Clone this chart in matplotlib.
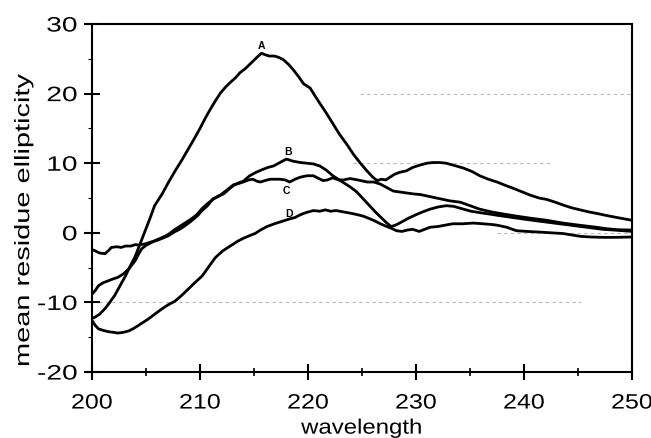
import numpy as np
import matplotlib
matplotlib.use('Agg')
import matplotlib.pyplot as plt
from matplotlib.ticker import MultipleLocator
from matplotlib.patheffects import AbstractPathEffect
from matplotlib.transforms import Affine2D

plt.rcParams['font.family'] = ['Liberation Sans', 'DejaVu Sans']
plt.rcParams['axes.unicode_minus'] = False


class Stretch(AbstractPathEffect):
    """Widen text glyphs along the baseline (the old chart font is set wide)."""
    def __init__(self, sx, anchor='center'):
        super().__init__()
        self.sx = sx
        self.anchor = anchor

    def draw_path(self, renderer, gc, tpath, affine, rgbFace=None):
        ext = tpath.get_extents()
        if self.anchor == 'right':
            cx = ext.x1
        elif self.anchor == 'left':
            cx = ext.x0
        else:
            cx = 0.5 * (ext.x0 + ext.x1)
        t = Affine2D().translate(-cx, 0).scale(self.sx, 1).translate(cx, 0)
        renderer.draw_path(gc, tpath, t + affine, rgbFace)


# CD spectra, mean residue ellipticity vs wavelength (nm)
wl_a = [200.0, 200.3, 200.7, 201.2, 201.6, 202.1, 202.6, 203.1, 203.5, 204.0, 204.4, 204.9,
        205.4, 205.8, 206.5, 207.1, 207.7, 208.3, 208.9, 209.5, 210.0, 210.5, 210.9, 211.4,
        211.9, 212.4, 212.8, 213.3, 213.7, 214.2, 214.6, 215.0, 215.4, 215.7, 216.0, 216.4,
        216.9, 217.3, 217.7, 218.2, 218.6, 219.1, 219.6, 220.2, 220.6, 221.1, 221.7, 222.3,
        222.9, 223.6, 224.2, 224.8, 225.4, 226.0, 226.4, 226.8, 227.2, 227.6, 228.0, 228.5,
        229.1, 229.7, 230.3, 231.0, 231.6, 232.2, 232.8, 233.5, 234.4, 235.2, 235.9, 236.7,
        237.5, 238.3, 239.0, 239.8, 240.6, 241.4, 242.1, 242.9, 243.6, 244.4, 245.2, 246.0,
        246.7, 247.6, 248.6, 249.3, 250.0]
val_a = [-12.3, -12.1, -11.7, -10.9, -10.1, -9.0, -7.6, -6.2, -4.9, -3.4, -1.8, 0.2,
         2.2, 3.9, 5.6, 7.3, 8.9, 10.4, 12.0, 13.6, 15.0, 16.5, 17.6, 18.9,
         20.1, 21.0, 21.6, 22.3, 23.0, 23.6, 24.2, 24.8, 25.4, 25.8, 25.6, 25.4,
         25.4, 25.2, 24.9, 24.2, 23.5, 22.5, 21.4, 20.8, 19.8, 18.6, 17.2, 15.7,
         14.2, 12.7, 11.3, 10.1, 9.0, 8.0, 7.5, 7.7, 7.6, 8.0, 8.4, 8.7,
         8.9, 9.4, 9.7, 10.0, 10.1, 10.1, 10.0, 9.7, 9.3, 8.8, 8.2, 7.7,
         7.3, 6.8, 6.4, 5.9, 5.4, 5.0, 4.8, 4.4, 4.0, 3.6, 3.3, 3.0,
         2.8, 2.5, 2.2, 2.0, 1.8]

wl_b = [200.0, 200.3, 200.6, 201.0, 201.5, 202.0, 202.4, 202.9, 203.4, 203.7, 204.0, 204.3,
        204.6, 205.0, 205.5, 206.0, 206.6, 207.1, 207.6, 208.1, 208.6, 209.2, 209.7, 210.2,
        210.7, 211.2, 211.7, 212.2, 212.7, 213.1, 213.6, 214.0, 214.6, 215.2, 215.8, 216.3,
        216.8, 217.4, 218.0, 218.6, 219.3, 219.9, 220.5, 221.1, 221.7, 222.3, 222.8, 223.2,
        223.9, 224.5, 225.1, 225.7, 226.3, 226.9, 227.3, 227.7, 228.1, 228.6, 229.3, 230.0,
        230.6, 231.3, 232.0, 232.8, 233.5, 234.4, 235.1, 235.9, 236.8, 237.6, 238.5, 239.4,
        240.3, 241.3, 242.3, 243.3, 244.3, 245.3, 246.3, 247.3, 248.3, 249.2, 250.0]
val_b = [-8.8, -8.3, -7.6, -7.2, -6.9, -6.6, -6.4, -5.9, -5.2, -4.6, -4.0, -3.1,
         -2.3, -1.8, -1.4, -1.0, -0.6, -0.2, 0.4, 0.9, 1.4, 2.0, 2.6, 3.5,
         4.2, 4.8, 5.3, 5.6, 6.3, 6.8, 7.2, 7.4, 8.2, 8.7, 9.1, 9.4,
         9.6, 10.1, 10.6, 10.3, 10.1, 10.0, 9.9, 9.6, 9.0, 8.2, 7.7, 7.3,
         6.6, 5.9, 4.9, 3.9, 2.9, 2.0, 1.4, 0.9, 1.1, 1.5, 2.1, 2.6,
         3.0, 3.4, 3.7, 3.9, 3.8, 3.4, 3.1, 2.9, 2.7, 2.5, 2.3, 2.1,
         1.9, 1.7, 1.5, 1.3, 1.1, 0.9, 0.7, 0.5, 0.4, 0.3, 0.2]

wl_c = [200.0, 200.3, 200.7, 201.2, 201.5, 201.8, 202.3, 202.7, 203.1, 203.6, 204.0, 204.3,
        204.9, 205.5, 206.0, 206.5, 207.1, 207.6, 208.1, 208.6, 209.2, 209.8, 210.2, 210.7,
        211.2, 211.7, 212.2, 212.7, 213.1, 213.6, 214.0, 214.5, 214.9, 215.3, 215.6, 216.0,
        216.5, 217.0, 217.4, 217.9, 218.3, 218.8, 219.3, 219.9, 220.5, 221.0, 221.4, 221.8,
        222.3, 222.8, 223.3, 223.9, 224.6, 225.5, 226.1, 226.7, 227.3, 227.9, 228.8, 229.7,
        230.4, 231.0, 231.6, 232.2, 233.1, 234.1, 235.0, 235.9, 237.0, 238.1, 239.3, 240.6,
        242.1, 243.6, 245.1, 246.7, 247.6, 248.6, 250.0]
val_c = [-2.4, -2.6, -2.9, -3.0, -2.6, -2.1, -2.0, -2.1, -1.9, -1.9, -1.7, -1.75,
         -1.6, -1.3, -1.1, -0.8, -0.4, 0.1, 0.5, 1.0, 1.7, 2.5, 3.2, 3.9,
         4.9, 5.2, 5.8, 6.4, 6.9, 7.1, 7.3, 7.6, 7.7, 7.4, 7.3, 7.5,
         7.7, 7.7, 7.7, 7.6, 7.3, 7.7, 8.0, 8.2, 8.2, 7.8, 7.5, 7.6,
         7.9, 7.6, 7.6, 7.8, 7.6, 7.3, 7.3, 7.0, 6.5, 6.0, 5.8, 5.6,
         5.5, 5.3, 5.1, 4.9, 4.6, 4.4, 3.9, 3.4, 3.0, 2.7, 2.4, 2.1,
         1.8, 1.4, 1.1, 0.8, 0.6, 0.45, 0.4]

wl_d = [200.0, 200.3, 200.6, 201.0, 201.5, 202.0, 202.4, 202.9, 203.4, 203.9, 204.3, 204.8,
        205.2, 205.8, 206.5, 207.1, 207.7, 208.3, 208.9, 209.5, 210.2, 210.8, 211.4, 212.1,
        212.8, 213.5, 214.0, 214.6, 215.1, 215.6, 216.2, 216.9, 217.7, 218.3, 218.8, 219.3,
        219.8, 220.5, 221.1, 221.6, 222.1, 222.6, 223.3, 224.0, 224.6, 225.1, 225.6, 226.2,
        226.7, 227.3, 227.8, 228.2, 228.7, 229.2, 229.7, 230.3, 230.8, 231.3, 232.0, 232.7,
        233.4, 234.3, 235.3, 236.2, 237.0, 237.5, 238.4, 239.3, 240.3, 241.5, 242.5, 243.6,
        244.4, 245.2, 246.2, 247.3, 248.5, 250.0]
val_d = [-12.6, -13.3, -13.8, -14.0, -14.2, -14.3, -14.4, -14.3, -14.1, -13.7, -13.3, -12.8,
         -12.4, -11.7, -10.9, -10.3, -9.8, -9.0, -8.1, -7.2, -6.2, -4.9, -3.6, -2.6,
         -1.9, -1.2, -0.8, -0.4, -0.1, 0.4, 0.9, 1.3, 1.7, 2.0, 2.2, 2.6,
         2.9, 3.2, 3.1, 3.3, 3.1, 3.2, 3.0, 2.8, 2.6, 2.4, 2.1, 1.7,
         1.3, 0.9, 0.6, 0.3, 0.2, 0.4, 0.5, 0.2, 0.5, 0.8, 0.9, 1.1,
         1.3, 1.3, 1.4, 1.3, 1.2, 1.1, 0.8, 0.3, 0.2, 0.1, 0.0, -0.1,
         -0.3, -0.5, -0.6, -0.65, -0.65, -0.6]

curve_labels = ['A', 'B', 'C', 'D']
label_pos = [(215.7, 27.0), (218.2, 11.8), (218.0, 6.1), (218.2, 2.9)]

# broken dashed reference lines: (y, x start, x end)
grid_y = [20, 10, 0, -10]
grid_x0 = [224.8, 224.2, 237.5, 200.0]
grid_x1 = [250.0, 242.4, 250.0, 245.3]

fig = plt.figure(figsize=(6.51, 4.39), dpi=100)
ax = fig.add_axes([0.1413, 0.1503, 0.8295, 0.7927])

for y, x0, x1 in zip(grid_y, grid_x0, grid_x1):
    ax.plot([x0, x1], [y, y], color='#b8b8b8', lw=0.8, dashes=(3, 3), zorder=1)

for wl, val in [(wl_a, val_a), (wl_b, val_b), (wl_c, val_c), (wl_d, val_d)]:
    ax.plot(wl, val, color='black', lw=2.0, zorder=3)

for lab, (x, y) in zip(curve_labels, label_pos):
    ax.text(x, y, lab, fontsize=7.5, fontweight='bold', ha='center', va='center')

ax.set_xlim(200, 250)
ax.set_ylim(-20, 30)
ax.xaxis.set_major_locator(MultipleLocator(10))
ax.xaxis.set_minor_locator(MultipleLocator(5))
ax.yaxis.set_major_locator(MultipleLocator(10))
ax.yaxis.set_minor_locator(MultipleLocator(5))
ax.tick_params(which='major', direction='inout', length=11, width=1.5, labelsize=15)
ax.tick_params(axis='x', which='major', pad=10)
ax.tick_params(axis='y', which='major', pad=5)
ax.tick_params(axis='x', which='minor', direction='inout', length=6, width=1.2)
ax.tick_params(axis='y', which='minor', direction='out', length=3, width=0.8)
for s in ax.spines.values():
    s.set_linewidth(1.5)

for lab in ax.get_xticklabels():
    lab.set_path_effects([Stretch(1.2)])
for lab in ax.get_yticklabels():
    lab.set_path_effects([Stretch(1.35, 'right')])

xl = ax.set_xlabel('wavelength', fontsize=15, va='top')
ax.xaxis.set_label_coords(0.5, -0.134)
xl.set_path_effects([Stretch(1.15)])
yl = ax.set_ylabel('mean residue ellipticity', fontsize=15, va='bottom')
ax.yaxis.set_label_coords(-0.109, 0.437)
yl.set_path_effects([Stretch(1.39)])

fig.savefig('out.png', dpi=100)
